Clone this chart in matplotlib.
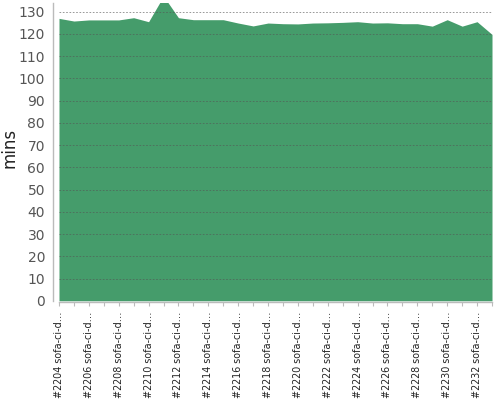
import matplotlib
matplotlib.use("Agg")
import matplotlib.pyplot as plt
import numpy as np

# builds #2204 .. #2233, labels cut off as in the dashboard
builds = ["#%d sofa-ci-d\u2026" % n for n in range(2204, 2234)]
mins = [127, 125.8, 126.3, 126.3, 126.3, 127.3, 125.5, 137, 127.3, 126.4,
        126.4, 126.4, 124.9, 123.6, 124.9, 124.6, 124.5, 124.9, 125, 125.2,
        125.5, 124.9, 125, 124.6, 124.6, 123.5, 126.4, 123.5, 125.5, 119.8]
yticks = list(range(0, 131, 10))

fig = plt.figure(figsize=(5, 4), dpi=100)
ax = fig.add_axes([0.118, 0.248, 0.866, 0.745])

x = np.arange(len(mins))
ax.fill_between(x, 0, mins, color="#459c6b", lw=0, zorder=1)

ax.set_xlim(0, len(mins) - 1)
ax.set_ylim(0, 134)
ax.set_yticks(yticks)
ax.tick_params(axis="x", length=3, color="#bbb", pad=4, labelrotation=90,
               labelsize=6.9, labelcolor="#222")
ax.tick_params(axis="y", length=0, labelsize=10, labelcolor="#555", pad=6)
ax.set_xticks(x)
ax.set_xticklabels([b if i % 2 == 0 else "" for i, b in enumerate(builds)])

ax.grid(axis="y", linestyle=(0, (2, 2)), color="#555", lw=0.6, alpha=0.7, zorder=2)
ax.set_axisbelow(False)

for s in ["top", "right"]:
    ax.spines[s].set_visible(False)
for s in ["left", "bottom"]:
    ax.spines[s].set_color("#bbb")
    ax.spines[s].set_linewidth(1)
ax.spines["left"].set_position(("outward", 4))
ax.spines["bottom"].set_position(("outward", 1))

ax.set_ylabel("mins", fontsize=12, color="#222")
ax.yaxis.set_label_coords(-0.093, 0.513)

fig.savefig("out.png", dpi=100)
